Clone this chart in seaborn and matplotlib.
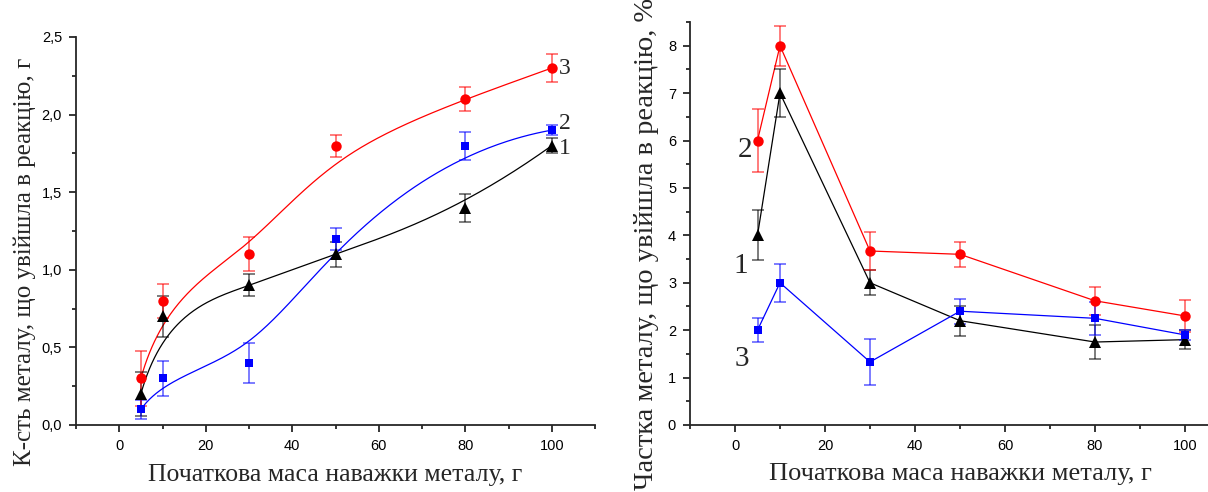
import numpy as np
import pandas as pd
import matplotlib
matplotlib.use("Agg")
import matplotlib.pyplot as plt
from matplotlib.ticker import MultipleLocator, FuncFormatter
import seaborn as sns

# ---------------- data ----------------
mass = [5, 10, 30, 50, 80, 100]

# left panel: amount of metal reacted, g
amt1 = [0.2, 0.7, 0.9, 1.1, 1.4, 1.8]
amt1_err = [0.14, 0.13, 0.07, 0.08, 0.09, 0.05]
amt2 = [0.1, 0.3, 0.4, 1.2, 1.8, 1.9]
amt2_err = [0.06, 0.11, 0.13, 0.07, 0.09, 0.03]
amt3 = [0.3, 0.8, 1.1, 1.8, 2.1, 2.3]
amt3_err = [0.18, 0.11, 0.11, 0.07, 0.08, 0.09]

# right panel: fraction of metal reacted, %
frac1 = [4.0, 7.0, 3.0, 2.2, 1.75, 1.8]
frac1_err = [0.53, 0.5, 0.26, 0.32, 0.35, 0.2]
frac2 = [6.0, 8.0, 3.67, 3.6, 2.62, 2.3]
frac2_err = [0.67, 0.42, 0.4, 0.26, 0.3, 0.34]
frac3 = [2.0, 3.0, 1.33, 2.4, 2.25, 1.9]
frac3_err = [0.25, 0.4, 0.48, 0.26, 0.35, 0.1]

xlabel = "Початкова маса наважки металу, г"
ylabel_left = "К-сть металу, що увійшла в реакцію, г"
ylabel_right = "Частка металу, що увійшла в реакцію, %"

# ---------------- style ----------------
sns.set_style("ticks")
plt.rcParams["font.family"] = ["Liberation Sans", "DejaVu Sans"]
SERIF = ["Liberation Serif", "DejaVu Serif"]

RED = "#ff0000"
BLUE = "#0000ff"
BLACK = "#000000"


def bspline(px, py, n=300, k=3):
    """Clamped cubic B-spline using the data points as control points."""
    px = np.asarray(px, float)
    py = np.asarray(py, float)
    m = len(px)
    nint = m - k
    t = np.concatenate([np.zeros(k), np.arange(nint + 1), np.full(k, nint)])
    u = np.linspace(0, nint, n)
    nb = len(t) - 1
    N = np.zeros((n, nb))
    for i in range(nb):
        N[:, i] = (u >= t[i]) & (u < t[i + 1])
    N[-1, :] = 0
    N[-1, m - 1] = 1
    for d in range(1, k + 1):
        newN = np.zeros((n, nb - d))
        for i in range(nb - d):
            den1 = t[i + d] - t[i]
            den2 = t[i + d + 1] - t[i + 1]
            a = (u - t[i]) / den1 if den1 > 0 else 0
            b = (t[i + d + 1] - u) / den2 if den2 > 0 else 0
            newN[:, i] = a * N[:, i] + b * N[:, i + 1]
        N = newN
    return N @ px, N @ py


fig = plt.figure(figsize=(12.08, 4.92), dpi=100)
axL = fig.add_axes([76 / 1208, 67 / 492, 519 / 1208, 388 / 492])
axR = fig.add_axes([690 / 1208, 67 / 492, 540 / 1208, 403 / 492])

markers = {"tri": "^", "sq": "s", "circ": "o"}
msize = {"tri": 8.5, "sq": 6, "circ": 7.5}

# ---------------- left panel ----------------
left_series = [
    (amt1, amt1_err, BLACK, "tri"),
    (amt2, amt2_err, BLUE, "sq"),
    (amt3, amt3_err, RED, "circ"),
]
for vals, errs, col, mk in left_series:
    cx, cy = bspline(mass, vals)
    sns.lineplot(x=cx, y=cy, ax=axL, color=col, lw=0.9, sort=False, estimator=None)
    axL.errorbar(mass, vals, yerr=errs, fmt="none", ecolor=col, elinewidth=1.2,
                 capsize=4, capthick=1.2, alpha=0.6, zorder=3)
    sns.lineplot(x=mass, y=vals, ax=axL, color=col, lw=0, marker=markers[mk],
                 markersize=msize[mk], markeredgewidth=0, zorder=4)

axL.set_xlim(-10, 110)
axL.set_ylim(0, 2.5)
axL.xaxis.set_major_locator(MultipleLocator(20))
axL.xaxis.set_minor_locator(MultipleLocator(10))
axL.yaxis.set_major_locator(MultipleLocator(0.5))
axL.yaxis.set_minor_locator(MultipleLocator(0.25))
axL.yaxis.set_major_formatter(FuncFormatter(lambda v, p: f"{v:.1f}".replace(".", ",")))
axL.set_xlabel(xlabel, family=SERIF, fontsize=18.5, labelpad=8)
axL.set_ylabel(ylabel_left, family=SERIF, fontsize=18)
axL.yaxis.set_label_coords(-0.078, 0.42)

for txt, yv in [("3", 2.3), ("2", 1.94), ("1", 1.78)]:
    axL.text(101.6, yv, txt, family=SERIF, fontsize=17, ha="left", va="center")

# ---------------- right panel ----------------
right_series = [
    (frac1, frac1_err, BLACK, "tri"),
    (frac2, frac2_err, RED, "circ"),
    (frac3, frac3_err, BLUE, "sq"),
]
for vals, errs, col, mk in right_series:
    sns.lineplot(x=mass, y=vals, ax=axR, color=col, lw=0.9, sort=False, estimator=None)
    axR.errorbar(mass, vals, yerr=errs, fmt="none", ecolor=col, elinewidth=1.2,
                 capsize=4, capthick=1.2, alpha=0.6, zorder=3)
    sns.lineplot(x=mass, y=vals, ax=axR, color=col, lw=0, marker=markers[mk],
                 markersize=msize[mk], markeredgewidth=0, zorder=4)

axR.set_xlim(-10, 110)
axR.set_ylim(0, 8.5)
axR.xaxis.set_major_locator(MultipleLocator(20))
axR.xaxis.set_minor_locator(MultipleLocator(10))
axR.yaxis.set_major_locator(MultipleLocator(1))
axR.yaxis.set_minor_locator(MultipleLocator(0.5))
axR.set_xlabel(xlabel, family=SERIF, fontsize=19, labelpad=7)
axR.set_ylabel(ylabel_right, family=SERIF, fontsize=20.5)
axR.yaxis.set_label_coords(-0.058, 0.45)

for txt, xv, yv in [("2", 2.2, 5.8), ("1", 1.3, 3.35), ("3", 1.6, 1.4)]:
    axR.text(xv, yv, txt, family=SERIF, fontsize=21, ha="center", va="center")

for ax in (axL, axR):
    sns.despine(ax=ax)
    ax.spines["left"].set_linewidth(1.3)
    ax.spines["bottom"].set_linewidth(1.3)
    ax.tick_params(which="major", direction="out", length=5, width=1.1,
                   labelsize=10.5, colors="black", pad=5)
    ax.tick_params(which="minor", direction="out", length=3, width=1.1, colors="black")
    ax.grid(False)

fig.savefig("out.png", dpi=100)
